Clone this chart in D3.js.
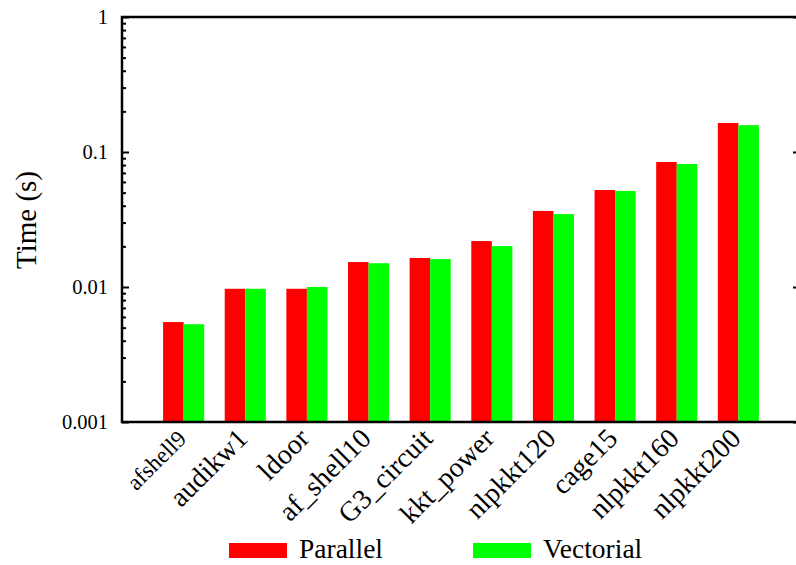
<!DOCTYPE html>
<html>
<head>
<meta charset="utf-8">
<script src="https://cdn.jsdelivr.net/npm/d3@7"></script>
<style>
  body { margin: 0; background: #fff; }
  svg { display: block; }
  text { font-family: "Liberation Serif", "Nimbus Roman", "DejaVu Serif", serif; fill: #000; }
</style>
</head>
<body>
<script>
'use strict';

// matrices and timings (seconds)
const matrices = ["afshell9", "audikw1", "ldoor", "af_shell10", "G3_circuit",
  "kkt_power", "nlpkkt120", "cage15", "nlpkkt160", "nlpkkt200"];
const parallelTimes = [0.0055, 0.0097, 0.0097, 0.0153, 0.0164, 0.0219, 0.0366, 0.0523, 0.0843, 0.164];
const vectorialTimes = [0.0053, 0.0097, 0.0100, 0.0150, 0.0161, 0.0201, 0.0347, 0.0515, 0.0815, 0.158];
const seriesNames = ["Parallel", "Vectorial"];
const seriesColors = ["#ff0000", "#00ff00"];
const majorTicks = [0.001, 0.01, 0.1, 1];
const tickLabels = ["0.001", "0.01", "0.1", "1"];

(function() {
  const width = 796, height = 565;
  const serif = '"Liberation Serif", "Nimbus Roman", "DejaVu Serif", serif';
  const svg = d3.select('body').append('svg')
    .attr('width', width)
    .attr('height', height)
    .attr('font-family', serif);

  // gnuplot-like frame: x from -1 to 10, right border falls just off the page
  const left = 122, right = 800, top = 17, bottom = 422;
  const x = d3.scaleLinear().domain([-1, 10]).range([left, right]);
  const y = d3.scaleLog().domain([0.001, 1]).range([bottom, top]);
  const boxWidth = 1 / 3;

  // minor ticks 2..9 within each decade
  let minorTicks = [];
  majorTicks.slice(0, -1).forEach(d => {
    for (let k = 2; k <= 9; k++) minorTicks.push(d * k);
  });

  // bars
  const series = [parallelTimes, vectorialTimes];
  series.forEach((vals, s) => {
    svg.append('g').selectAll('rect')
      .data(vals)
      .enter()
      .append('rect')
        .attr('x', (d, i) => x(i + (s - 1) * boxWidth))
        .attr('width', x(boxWidth) - x(0))
        .attr('y', d => y(d))
        .attr('height', d => y(0.001) - y(d))
        .attr('fill', seriesColors[s]);
  });

  // left axis
  svg.append('g')
    .attr('transform', `translate(${left},0)`)
    .call(d3.axisLeft(y).tickValues(majorTicks).tickSize(-7).tickPadding(14)
      .tickFormat((d, i) => tickLabels[i]))
    .call(g => g.attr('font-family', serif).attr('font-size', 20.5))
    .call(g => g.select('.domain').remove())
    .call(g => g.selectAll('line').attr('stroke', '#000').attr('stroke-width', 2))
    .call(g => g.selectAll('text').attr('fill', '#000'));

  svg.append('g')
    .attr('transform', `translate(${left},0)`)
    .call(d3.axisLeft(y).tickValues(minorTicks).tickSize(-4).tickFormat(''))
    .call(g => g.select('.domain').remove())
    .call(g => g.selectAll('line').attr('stroke', '#000').attr('stroke-width', 2));

  // right axis (mirror ticks)
  svg.append('g')
    .attr('transform', `translate(${right},0)`)
    .call(d3.axisRight(y).tickValues(majorTicks).tickSize(-7).tickFormat(''))
    .call(g => g.select('.domain').remove())
    .call(g => g.selectAll('line').attr('stroke', '#000').attr('stroke-width', 2));

  svg.append('g')
    .attr('transform', `translate(${right},0)`)
    .call(d3.axisRight(y).tickValues(minorTicks).tickSize(-4).tickFormat(''))
    .call(g => g.select('.domain').remove())
    .call(g => g.selectAll('line').attr('stroke', '#000').attr('stroke-width', 2));

  // border
  svg.append('path')
    .attr('d', `M${right},${top}H${left}V${bottom}H${right}`)
    .attr('fill', 'none')
    .attr('stroke', '#000')
    .attr('stroke-width', 2.5);

  // x labels, rotated 45 degrees
  svg.append('g').selectAll('text')
    .data(matrices)
    .enter()
    .append('text')
      .attr('transform', (d, i) => `translate(${x(i) + 4},${bottom + 18}) rotate(-45)`)
      .attr('text-anchor', 'end')
      .style('font-size', (d, i) => i === 0 ? '23px' : '28px')
      .text(d => d);

  // y title
  svg.append('text')
    .attr('transform', 'translate(36,220) rotate(-90)')
    .attr('text-anchor', 'middle')
    .style('font-size', '29px')
    .text('Time (s)');

  // legend
  const legendX = [229, 473];
  seriesNames.forEach((name, s) => {
    svg.append('rect')
      .attr('x', legendX[s])
      .attr('y', 543)
      .attr('width', 58)
      .attr('height', 15)
      .attr('fill', seriesColors[s]);
    svg.append('text')
      .attr('x', legendX[s] + 70)
      .attr('y', 558)
      .style('font-size', '27.5px')
      .text(name);
  });
})();
</script>
</body>
</html>
